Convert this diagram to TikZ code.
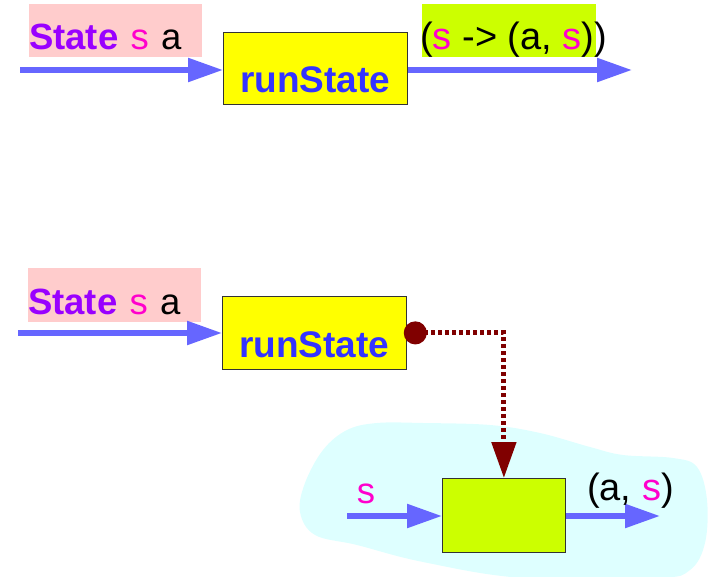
\documentclass[tikz,border=0pt]{standalone}
\usepackage{fontspec}
\setmainfont{Liberation Sans}
\usetikzlibrary{arrows.meta}

\definecolor{flowblue}{RGB}{102,102,255}
\definecolor{typepurple}{RGB}{153,0,255}
\definecolor{varpink}{RGB}{255,0,204}
\definecolor{fnblue}{RGB}{51,51,255}
\definecolor{labelpink}{RGB}{255,204,204}
\definecolor{limegreen}{RGB}{204,255,0}
\definecolor{boxyellow}{RGB}{255,255,0}
\definecolor{darkred}{RGB}{128,0,0}
\definecolor{bubblecyan}{RGB}{222,255,255}

\newcommand{\sv}{\textcolor{varpink}{s}}
\newcommand{\statetype}{\textcolor{typepurple}{\bfseries State} \sv{} a}

\begin{document}
\begin{tikzpicture}[x=1pt,y=-1pt,
  bigtext/.style={font=\fontsize{36.5}{40}\selectfont},
  flow/.style={draw=flowblue, line width=5.5pt, -{Triangle[length=35pt,width=23pt]}},
  bind/.style={draw=darkred, line width=5pt, dash pattern=on 4pt off 3pt,
    {Circle[length=23pt]}-{Triangle[length=36pt,width=24pt]}},
  fnbox/.style={draw=black!80, line width=0.8pt, fill=boxyellow, inner sep=0pt,
    minimum width=184pt, text depth=12pt, text=fnblue,
    font=\fontsize{37}{40}\selectfont\bfseries},
  typelabel/.style={fill=labelpink, inner sep=0pt, text width=173pt, align=left,
    text depth=7pt, anchor=base west, bigtext}
]
\useasboundingbox (0,0) rectangle (715,577);

% ---------- upper diagram: runState :: State s a -> (s -> (a, s))
\node[typelabel, text height=46pt] (t1) at (29,50) {\statetype};
\fill[limegreen] (422,4) rectangle (596,57);
\node[font=\fontsize{38}{40}\selectfont, anchor=base west, inner sep=0pt] (r1) at (420,50)
  {(\sv{} -> (a, \sv))};
\node[fnbox, text height=60pt, anchor=north west] (rs1) at (223,32) {runState};
\coordinate (in1) at (20,70);
\coordinate (out1) at (632,70);
\draw[flow] (in1) -- (in1 -| rs1.west);
\draw[flow] (out1 -| rs1.east) -- (out1);

% ---------- lower diagram: the state function unwrapped
\fill[bubblecyan] plot[smooth cycle, tension=0.6] coordinates {
  (300,512) (305,483) (323,450) (347,430) (377,423) (423,423) (490,425)
  (540,433) (590,447) (623,455) (673,458) (697,467) (707,500) (705,543)
  (690,570) (657,578) (523,578) (423,562) (357,545) (315,535)};

\node[typelabel, text height=47pt] (t2) at (28,315) {\statetype};
\node[fnbox, text height=61pt, anchor=north west] (rs2) at (222,296) {runState};
\coordinate (in2) at (18,333);
\draw[flow] (in2) -- (in2 -| rs2.west);

\node[draw=black!80, line width=0.8pt, fill=limegreen, inner sep=0pt,
  minimum width=123pt, minimum height=74pt, anchor=north west] (sf) at (442,478) {};
\draw[bind] ([xshift=-3pt]rs2.east) -| (sf.north);

\coordinate (in3) at (347,516);
\coordinate (out3) at (660,516);
\draw[flow] (in3) -- (in3 -| sf.west);
\draw[flow] (out3 -| sf.east) -- (out3);
\node[bigtext, anchor=base, inner sep=0pt] (sin) at (366,503) {\sv};
\node[font=\fontsize{38}{40}\selectfont, anchor=base west, inner sep=0pt] (sout) at (587,500) {(a, \sv)};
\end{tikzpicture}
\end{document}
